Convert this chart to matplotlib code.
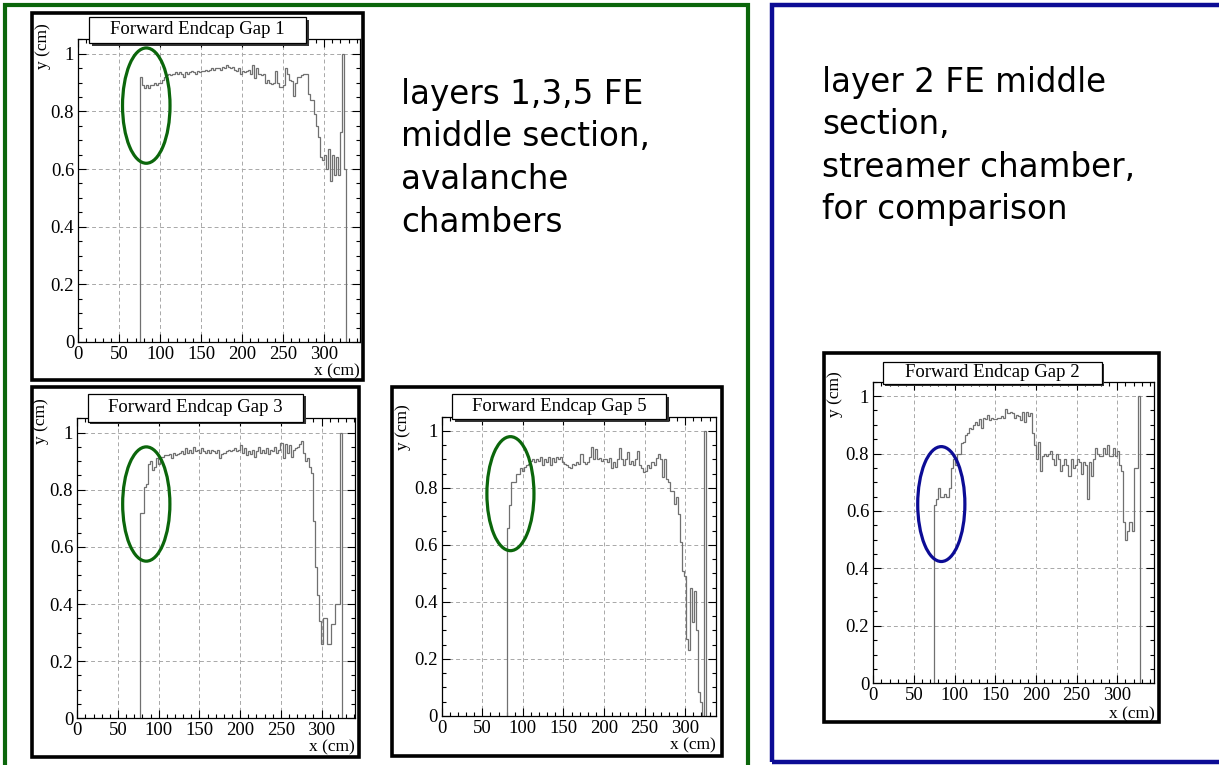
import matplotlib
matplotlib.use("Agg")
import matplotlib.pyplot as plt
import numpy as np
from matplotlib.patches import Rectangle, Ellipse
from matplotlib.ticker import MultipleLocator, FuncFormatter

W, H = 1219, 765

# ---------------- data (histogram bin contents, 2.5 cm bins) ----------------
bin_width = 2.5

gap1_start = 75.0
gap1_y = [0.92, 0.89, 0.88, 0.89, 0.88, 0.89, 0.89, 0.90, 0.89, 0.90,
          0.90, 0.91, 0.92, 0.925, 0.93, 0.925, 0.93, 0.935, 0.93, 0.935,
          0.93, 0.92, 0.935, 0.93, 0.935, 0.94, 0.935, 0.93, 0.94, 0.935,
          0.94, 0.94, 0.945, 0.94, 0.945, 0.95, 0.945, 0.95, 0.95, 0.945,
          0.955, 0.95, 0.96, 0.955, 0.95, 0.955, 0.945, 0.94, 0.95, 0.93,
          0.94, 0.935, 0.94, 0.945, 0.93, 0.96, 0.915, 0.95, 0.93, 0.925,
          0.93, 0.90, 0.91, 0.90, 0.895, 0.90, 0.94, 0.90, 0.885, 0.885,
          0.89, 0.95, 0.93, 0.91, 0.905, 0.855, 0.90, 0.92, 0.92, 0.925,
          0.93, 0.93, 0.86, 0.84, 0.84, 0.79, 0.75, 0.71, 0.64, 0.63,
          0.65, 0.60, 0.67, 0.56, 0.65, 0.58, 0.64, 0.58, 0.73, 1.0,
          0.60]

gap3_start = 77.0
gap3_y = [0.72, 0.72, 0.81, 0.82, 0.89, 0.90, 0.87, 0.88, 0.91, 0.89,
          0.915, 0.915, 0.92, 0.92, 0.925, 0.91, 0.93, 0.92, 0.925, 0.93,
          0.935, 0.925, 0.945, 0.93, 0.94, 0.93, 0.95, 0.935, 0.94, 0.93,
          0.945, 0.935, 0.93, 0.94, 0.93, 0.94, 0.935, 0.93, 0.94, 0.91,
          0.925, 0.93, 0.935, 0.94, 0.935, 0.94, 0.945, 0.935, 0.94, 0.955,
          0.93, 0.945, 0.92, 0.935, 0.925, 0.94, 0.915, 0.935, 0.95, 0.93,
          0.94, 0.93, 0.945, 0.925, 0.94, 0.935, 0.95, 0.93, 0.94, 0.965,
          0.91, 0.96, 0.93, 0.955, 0.915, 0.94, 0.945, 0.95, 0.96, 0.97,
          0.93, 0.90, 0.91, 0.88, 0.86, 0.69, 0.53, 0.43, 0.34, 0.26,
          0.35, 0.35, 0.26, 0.26, 0.33, 0.33, 0.40, 0.40, 1.0]

gap5_start = 81.0
gap5_y = [0.66, 0.74, 0.82, 0.82, 0.85, 0.85, 0.87, 0.86, 0.875, 0.88,
          0.885, 0.895, 0.90, 0.89, 0.90, 0.895, 0.91, 0.88, 0.90, 0.89,
          0.91, 0.88, 0.905, 0.89, 0.91, 0.90, 0.91, 0.89, 0.885, 0.88,
          0.875, 0.87, 0.885, 0.88, 0.89, 0.885, 0.92, 0.89, 0.885, 0.89,
          0.91, 0.945, 0.90, 0.935, 0.90, 0.905, 0.895, 0.90, 0.90, 0.89,
          0.905, 0.87, 0.89, 0.875, 0.90, 0.94, 0.90, 0.88, 0.90, 0.925,
          0.885, 0.895, 0.88, 0.90, 0.93, 0.88, 0.87, 0.855, 0.86, 0.88,
          0.87, 0.89, 0.88, 0.905, 0.92, 0.90, 0.84, 0.90, 0.83, 0.82,
          0.79, 0.79, 0.745, 0.77, 0.71, 0.61, 0.51, 0.49, 0.27, 0.23,
          0.45, 0.33, 0.44, 0.30, 0.085, 0.05, 0.0, 1.0]

gap2_start = 75.0
gap2_y = [0.62, 0.64, 0.68, 0.65, 0.65, 0.66, 0.65, 0.68, 0.75, 0.78,
          0.76, 0.80, 0.80, 0.835, 0.84, 0.865, 0.87, 0.89, 0.885, 0.90,
          0.91, 0.90, 0.92, 0.89, 0.925, 0.92, 0.935, 0.915, 0.925, 0.92,
          0.92, 0.925, 0.925, 0.93, 0.925, 0.955, 0.94, 0.945, 0.94, 0.925,
          0.935, 0.93, 0.915, 0.945, 0.91, 0.945, 0.93, 0.94, 0.87, 0.83,
          0.78, 0.84, 0.74, 0.79, 0.80, 0.79, 0.80, 0.81, 0.78, 0.76,
          0.80, 0.78, 0.74, 0.76, 0.78, 0.76, 0.72, 0.78, 0.75, 0.76,
          0.78, 0.77, 0.73, 0.77, 0.76, 0.64, 0.77, 0.72, 0.78, 0.82,
          0.80, 0.79, 0.79, 0.82, 0.80, 0.83, 0.79, 0.79, 0.82, 0.79,
          0.81, 0.76, 0.74, 0.56, 0.50, 0.53, 0.56, 0.53, 0.75, 0.75,
          1.0]

titles = ["Forward Endcap Gap 1", "Forward Endcap Gap 3",
          "Forward Endcap Gap 5", "Forward Endcap Gap 2"]
x_ticks = [0, 50, 100, 150, 200, 250, 300]
y_ticks = [0, 0.2, 0.4, 0.6, 0.8, 1.0]
x_label = "x (cm)"
y_label = "y (cm)"

left_text = ["layers 1,3,5 FE", "middle section,", "avalanche", "chambers"]
right_text = ["layer 2 FE middle", "section,", "streamer chamber,", "for comparison"]

GREEN = "#0b660b"
BLUE = "#0c0c95"

# ---------------- layout (pixel boxes) ----------------
panels = [
    dict(y=gap1_y, start=gap1_start, title=titles[0],
         ax=(78.3, 39.3, 360, 342), xmax=344, frame=(31.5, 13, 363, 380),
         tbox=(89, 17, 306, 43), xl_off=21, yl_off=(-35, 16),
         ell=(83, 0.82), ecol=GREEN),
    dict(y=gap3_y, start=gap3_start, title=titles[1],
         ax=(77.3, 418.3, 355, 718.3), xmax=341, frame=(31.5, 387, 359, 757),
         tbox=(87.5, 393.5, 303, 421.5), xl_off=21, yl_off=(-36, 20),
         ell=(84.7, 0.75), ecol=GREEN),
    dict(y=gap5_y, start=gap5_start, title=titles[2],
         ax=(441.7, 416.7, 716, 716), xmax=338, frame=(392, 387, 722, 756),
         tbox=(452, 394, 666, 419), xl_off=21, yl_off=(-39, 12),
         ell=(84.7, 0.78), ecol=GREEN),
    dict(y=gap2_y, start=gap2_start, title=titles[3],
         ax=(873.3, 381.7, 1154.3, 683.3), xmax=345.5, frame=(824, 353.5, 1158.5, 721.5),
         tbox=(883, 361.5, 1101.5, 383.5), xl_off=23, yl_off=(-38, 10),
         ell=(83.6, 0.624), ecol=BLUE),
]

fig = plt.figure(figsize=(W / 100, H / 100), dpi=100)
fig.patch.set_facecolor("white")


def fig_rect(x0, y0, x1, y1):
    return [x0 / W, 1 - y1 / H, (x1 - x0) / W, (y1 - y0) / H]


serif = "Liberation Serif"

# big outer boxes
fig.add_artist(Rectangle((5 / W, 1 - 790 / H), (748 - 5) / W, (790 - 4.7) / H,
                         transform=fig.transFigure, fill=False, ec=GREEN, lw=3.0, zorder=1))
fig.add_artist(Rectangle((771.5 / W, 1 - 762 / H), (1240 - 771.5) / W, (762 - 4.7) / H,
                         transform=fig.transFigure, fill=False, ec=BLUE, lw=3.2, zorder=1))

for p in panels:
    # panel frame
    fx0, fy0, fx1, fy1 = p["frame"]
    fig.add_artist(Rectangle((fx0 / W, 1 - fy1 / H), (fx1 - fx0) / W, (fy1 - fy0) / H,
                             transform=fig.transFigure, fill=False, ec="black", lw=2.6, zorder=2))

    ax = fig.add_axes(fig_rect(*p["ax"]))
    edges = p["start"] + bin_width * np.arange(len(p["y"]) + 1)
    ax.stairs(p["y"], edges, baseline=0, color="#707070", lw=0.9)
    ax.set_xlim(0, p["xmax"])
    ax.set_ylim(0, 1.05)
    ax.set_xticks(x_ticks)
    ax.set_yticks(y_ticks)
    ax.xaxis.set_minor_locator(MultipleLocator(10))
    ax.yaxis.set_minor_locator(MultipleLocator(0.05))
    ax.yaxis.set_major_formatter(FuncFormatter(lambda v, pos: f"{v:g}"))
    ax.tick_params(which="both", direction="in", top=True, right=True,
                   labelsize=13.5, pad=3, width=0.8)
    ax.tick_params(which="major", length=5.5)
    ax.tick_params(which="minor", length=3)
    for lab in ax.get_xticklabels() + ax.get_yticklabels():
        lab.set_fontfamily(serif)
    ax.grid(True, which="major", linestyle=(0, (4, 3)), color="#a8a8a8", lw=0.7)
    ax.set_axisbelow(True)
    for s in ax.spines.values():
        s.set_linewidth(0.9)

    ax.annotate(x_label, xy=(1, 0), xycoords="axes fraction",
                xytext=(0, -p["xl_off"]), textcoords="offset pixels",
                ha="right", va="top", fontsize=12.5, family=serif)
    ax.annotate(y_label, xy=(0, 1), xycoords="axes fraction",
                xytext=p["yl_off"], textcoords="offset pixels",
                ha="center", va="top", rotation=90, fontsize=12.5, family=serif)

    cx, cy = p["ell"]
    ax.add_patch(Ellipse((cx, cy), 58, 0.40, fill=False, ec=p["ecol"], lw=2.3,
                         clip_on=False, zorder=5))

    # title box with shadow
    tx0, ty0, tx1, ty1 = p["tbox"]
    fig.add_artist(Rectangle(((tx0 + 2.5) / W, 1 - (ty1 + 2.5) / H), (tx1 - tx0) / W, (ty1 - ty0) / H,
                             transform=fig.transFigure, fc="#333333", ec="none", zorder=6))
    fig.add_artist(Rectangle((tx0 / W, 1 - ty1 / H), (tx1 - tx0) / W, (ty1 - ty0) / H,
                             transform=fig.transFigure, fc="white", ec="black", lw=0.9, zorder=7))
    fig.text((tx0 + tx1) / 2 / W, 1 - (ty0 + ty1) / 2 / H, p["title"],
             ha="center", va="center", fontsize=13.5, family=serif, zorder=8)

# annotation texts
for i, line in enumerate(left_text):
    fig.text(401 / W, 1 - (104 + 42.5 * i) / H, line, ha="left", va="baseline",
             fontsize=23.5, family="DejaVu Sans", color="black")
for i, line in enumerate(right_text):
    fig.text(822 / W, 1 - (92 + 42.5 * i) / H, line, ha="left", va="baseline",
             fontsize=23.5, family="DejaVu Sans", color="black")

fig.savefig("out.png", dpi=100, facecolor="white")
